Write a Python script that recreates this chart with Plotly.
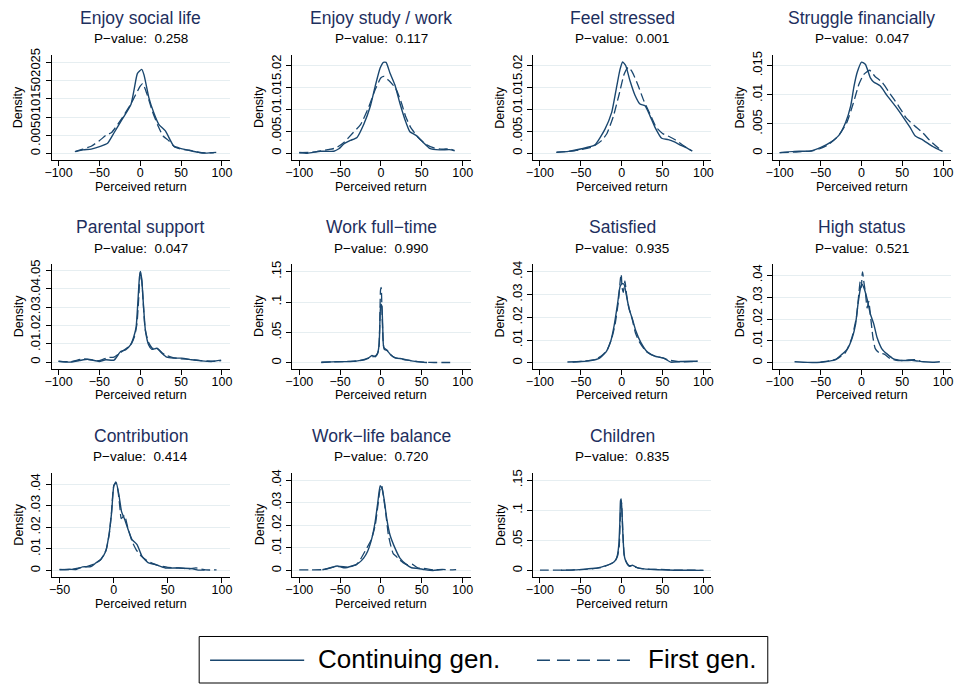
import plotly.graph_objects as go

# ---------------- data ----------------
titles = ["Enjoy social life", "Enjoy study / work", "Feel stressed", "Struggle financially",
          "Parental support", "Work full\u2212time", "Satisfied", "High status",
          "Contribution", "Work\u2212life balance", "Children"]
p_values = ["0.258", "0.117", "0.001", "0.047", "0.047", "0.990", "0.935", "0.521",
            "0.414", "0.720", "0.835"]

# 1 Enjoy social life
p1_x_cont = [-79, -70, -60, -48, -40, -32, -23.5, -11.5, -7.4, -3.4, 1.8, 4.6, 10.7, 16.7, 22.7, 30.8, 40.8, 48.9, 63, 79, 93]
p1_y_cont = [0.0005, 0.001, 0.0012, 0.002, 0.0028, 0.0057, 0.0089, 0.0134, 0.0177, 0.022, 0.0231, 0.0216, 0.0152, 0.0111, 0.008, 0.0062, 0.0021, 0.0014, 0.0007, 0.0001, 0.0003]
p1_x_first = [-80, -70, -60, -50, -42, -35, -25, -12, -6, 0, 3, 8, 15, 22, 28, 35, 42, 50, 60, 75, 90]
p1_y_first = [0.0005, 0.0012, 0.002, 0.0035, 0.005, 0.0058, 0.0088, 0.0134, 0.016, 0.0185, 0.0192, 0.0165, 0.0115, 0.0075, 0.0048, 0.0035, 0.0018, 0.0012, 0.0009, 0.0002, 0.0002]

# 2 Enjoy study / work
p2_x_cont = [-100, -90, -74, -57.6, -51.5, -45.5, -37.4, -29.3, -21, -13, -7, -1, 3, 6.3, 11, 17, 23, 29.3, 35.4, 43.4, 51.5, 59.6, 71.7, 83.8, 90]
p2_y_cont = [0.00015, 0.0, 0.00045, 0.00045, 0.001, 0.0021, 0.0029, 0.0036, 0.0066, 0.0107, 0.0153, 0.0194, 0.0207, 0.0207, 0.0183, 0.0156, 0.0115, 0.0077, 0.0049, 0.004, 0.0025, 0.0011, 0.00075, 0.0008, 0.0006]
p2_x_first = [-100, -80, -65, -55, -45, -35, -25, -15, -7, 0, 4, 10, 18, 25, 30, 36, 45, 55, 65, 75, 85, 90]
p2_y_first = [0.0001, 0.0003, 0.0008, 0.0012, 0.0025, 0.0045, 0.0065, 0.0105, 0.0145, 0.0172, 0.0175, 0.0165, 0.0148, 0.0115, 0.0085, 0.006, 0.0037, 0.002, 0.0012, 0.0009, 0.001, 0.0005]

# 3 Feel stressed
p3_x_cont = [-79.6, -65, -49, -32.7, -20.4, -12.2, -6, -2, 1.2, 4.9, 10.2, 16.3, 22.4, 28.6, 34.7, 40.8, 49, 57, 65.3, 73.5, 81.6, 86.5]
p3_y_cont = [0.0002, 0.0004, 0.001, 0.0019, 0.0055, 0.0093, 0.0153, 0.0191, 0.0208, 0.02, 0.0165, 0.0132, 0.0112, 0.0108, 0.0085, 0.0059, 0.0034, 0.0031, 0.0025, 0.0017, 0.001, 0.0005]
p3_x_first = [-80, -65, -50, -35, -25, -18, -10, -3, 3, 8, 13, 20, 27, 35, 42, 50, 58, 66, 75, 86]
p3_y_first = [0.0002, 0.0004, 0.0008, 0.0015, 0.0028, 0.0045, 0.0085, 0.0135, 0.018, 0.0196, 0.0185, 0.0155, 0.012, 0.0088, 0.006, 0.0045, 0.0038, 0.003, 0.0018, 0.0005]

# 4 Struggle financially
p4_x_cont = [-100, -82, -61.6, -49.5, -37.4, -27.3, -19.2, -13.1, -9, -5, 0.2, 5, 11, 15, 23.2, 31.3, 41.4, 51.5, 59.6, 65.7, 75.8, 87.9, 99.2]
p4_y_cont = [0.0001, 0.0003, 0.0004, 0.001, 0.0019, 0.0031, 0.0053, 0.0081, 0.0115, 0.0139, 0.0156, 0.0152, 0.0129, 0.0122, 0.0115, 0.0099, 0.0081, 0.0061, 0.0044, 0.003, 0.0022, 0.0011, 0.0003]
p4_x_first = [-100, -80, -60, -50, -40, -28, -18, -10, -3, 3, 10, 17, 25, 35, 45, 55, 65, 75, 85, 99]
p4_y_first = [0.0001, 0.0002, 0.0004, 0.0008, 0.0015, 0.003, 0.0052, 0.0085, 0.0118, 0.0135, 0.0142, 0.0131, 0.0122, 0.0102, 0.0082, 0.006, 0.0047, 0.0035, 0.002, 0.0003]

# 5 Parental support
p5_x_cont = [-100, -86.7, -74.5, -64.4, -50.3, -42.2, -32.1, -24, -18, -11.9, -7.9, -5, -3, -1, 0.2, 1.8, 3.8, 6.3, 10.3, 14.3, 20.4, 26.5, 32.5, 40.6, 50.7, 62.8, 75, 87, 99]
p5_y_cont = [0.0005, 0.0, 0.0009, 0.0016, 0.0004, 0.0013, 0.0011, 0.0058, 0.0067, 0.0094, 0.0139, 0.0193, 0.032, 0.0464, 0.0496, 0.0455, 0.032, 0.0175, 0.0094, 0.007, 0.0076, 0.0049, 0.0027, 0.0022, 0.0022, 0.0013, 0.0007, 0.0004, 0.0011]
p5_x_first = [-100, -85, -70, -60, -50, -40, -32, -25, -18, -12, -7, -4, -2, 0, 2, 4, 6, 10, 15, 20, 27, 33, 40, 50, 60, 75, 90, 99]
p5_y_first = [0.0004, 0.0003, 0.0018, 0.0012, 0.0008, 0.0025, 0.0028, 0.005, 0.0072, 0.0092, 0.014, 0.021, 0.034, 0.049, 0.044, 0.03, 0.018, 0.011, 0.0075, 0.0078, 0.005, 0.0035, 0.0025, 0.0018, 0.0015, 0.0008, 0.0005, 0.0008]

# 6 Work full-time
p6_x_cont = [-73, -53.5, -37.4, -25, -15, -11, -7, -4.2, -2.2, -1, -0.2, 1, 2.2, 3.4, 7, 11, 17.2, 23.2, 31.3, 39.4, 49.5, 56.4]
p6_y_cont = [0.001, 0.002, 0.002, 0.004, 0.008, 0.012, 0.010, 0.015, 0.031, 0.080, 0.0965, 0.094, 0.058, 0.0256, 0.021, 0.0147, 0.0082, 0.0071, 0.0049, 0.0027, 0.0011, 0.0005]
p6_x_first = [-73, -60, -45, -30, -20, -12, -6, -3, -1.5, -0.5, 0.3, 1.2, 2.5, 4, 8, 12, 18, 25, 35, 45, 55, 65, 75, 85]
p6_y_first = [0.0005, 0.0015, 0.002, 0.003, 0.005, 0.009, 0.012, 0.02, 0.06, 0.12, 0.124, 0.09, 0.04, 0.022, 0.02, 0.013, 0.008, 0.006, 0.004, 0.002, 0.0008, 0.0005, 0.0005, 0.0005]

# 7 Satisfied
p7_x_cont = [-66.4, -50.1, -37.7, -27.5, -19.3, -13.2, -9.2, -5.1, -1.8, 1, 3, 6.3, 9.2, 13.2, 17.3, 23.4, 31.6, 41.8, 52, 60, 72.3, 84.5, 92.7]
p7_y_cont = [0.0004, 0.0006, 0.001, 0.002, 0.0047, 0.0097, 0.0163, 0.0257, 0.0337, 0.0348, 0.0345, 0.0287, 0.0236, 0.0192, 0.0141, 0.009, 0.0047, 0.0028, 0.002, 0.0003, 0.0006, 0.0007, 0.0007]
p7_x_first = [-60, -45, -32, -25, -18, -12, -8, -4, -1.5, -0.5, 0.5, 2, 4, 6, 9, 13, 17, 22, 30, 40, 50, 58, 70, 85, 93]
p7_y_first = [0.0003, 0.0008, 0.0015, 0.003, 0.0055, 0.011, 0.017, 0.027, 0.037, 0.039, 0.033, 0.031, 0.036, 0.03, 0.024, 0.019, 0.013, 0.009, 0.005, 0.003, 0.0022, 0.0012, 0.0005, 0.0005, 0.0008]

# 8 High status
p8_x_cont = [-81.8, -65.7, -49.5, -39.4, -31.3, -23.2, -17.2, -11.1, -7.1, -4.2, -1, 1, 3.8, 7.1, 11.1, 15.2, 19.2, 25.3, 31.3, 39.4, 49.5, 63.6, 75.8, 87.9, 96]
p8_y_cont = [0.0005, 0.0002, 0.0003, 0.0008, 0.0015, 0.0041, 0.0063, 0.0116, 0.0177, 0.0267, 0.0343, 0.0358, 0.0335, 0.029, 0.0222, 0.0177, 0.0116, 0.0063, 0.0041, 0.0018, 0.0011, 0.0011, 0.0005, 0.0003, 0.0005]
p8_x_first = [-50, -40, -30, -20, -12, -6, -3, -1.5, 0, 0.8, 1.5, 3, 5, 7, 9, 11, 14, 17, 22, 28, 35, 45, 55, 65, 72]
p8_y_first = [0.0003, 0.0009, 0.0018, 0.0045, 0.011, 0.021, 0.032, 0.037, 0.0345, 0.04, 0.0415, 0.037, 0.032, 0.025, 0.028, 0.022, 0.012, 0.0065, 0.0045, 0.004, 0.002, 0.001, 0.0012, 0.0015, 0.0008]

# 9 Contribution
p9_x_cont = [-50, -40.9, -34.8, -28.7, -21, -16.5, -11.9, -7.3, -4.3, -1.8, 0.3, 2.4, 4.9, 7.3, 10.4, 14, 17, 21.6, 26.2, 32.3, 38.4, 47.6, 59.8, 72, 78, 84]
p9_y_cont = [0.0003, 0.0006, 0.0005, 0.0017, 0.0018, 0.0035, 0.0051, 0.0089, 0.0166, 0.0273, 0.0395, 0.0406, 0.0349, 0.0273, 0.0234, 0.0181, 0.0143, 0.012, 0.0066, 0.0035, 0.0028, 0.0012, 0.0012, 0.0009, 0.0002, 0.0002]
p9_x_first = [-50, -40, -32, -25, -18, -12, -7, -4, -2, 0, 2, 4, 6, 7, 10, 13, 17, 21, 26, 32, 40, 50, 60, 70, 76, 85, 95]
p9_y_first = [0.0005, 0.0004, 0.0012, 0.0018, 0.003, 0.005, 0.0095, 0.017, 0.027, 0.039, 0.041, 0.037, 0.028, 0.024, 0.0255, 0.02, 0.0135, 0.0095, 0.0065, 0.0042, 0.0025, 0.0015, 0.0012, 0.0008, 0.0012, 0.0003, 0.0003]

# 10 Work-life balance
p10_x_cont = [-71.7, -61.6, -53.5, -45.5, -35.4, -27.3, -21.2, -16.4, -11.1, -7.1, -3.8, -1, 1.4, 3.8, 7.1, 11.1, 17.2, 23.2, 31.3, 37.4, 45.5, 53.5, 63.6, 71.7, 75.8]
p10_y_cont = [0.0003, 0.0012, 0.002, 0.0012, 0.002, 0.0033, 0.0055, 0.0084, 0.0143, 0.0215, 0.0303, 0.0375, 0.0361, 0.0317, 0.023, 0.0157, 0.0099, 0.0055, 0.0026, 0.0012, 0.0009, 0.0004, 0.0, 0.0003, 0.0004]
p10_x_first = [-100, -85, -70, -58, -50, -40, -30, -25, -18, -12, -7, -4, -1, 1, 3, 6, 9, 12, 15, 18, 22, 27, 33, 38, 45, 55, 65, 75, 85, 92]
p10_y_first = [0.0003, 0.0003, 0.0004, 0.0015, 0.0018, 0.0015, 0.0025, 0.005, 0.0095, 0.0135, 0.02, 0.028, 0.036, 0.0375, 0.033, 0.025, 0.016, 0.011, 0.0075, 0.0065, 0.005, 0.0035, 0.0025, 0.0028, 0.0012, 0.0008, 0.0003, 0.0005, 0.0003, 0.0004]

# 11 Children
p11_x_cont = [-74.3, -58, -41.8, -29.5, -19.3, -11.1, -7.1, -5.1, -3.5, -2.2, -1.4, -0.6, 0.2, 1.4, 3, 5.1, 9.2, 13.2, 19.3, 27.4, 39.7, 49.9, 64.2, 80.4, 100]
p11_y_cont = [0.0005, 0.001, 0.0027, 0.0044, 0.0082, 0.0125, 0.018, 0.026, 0.0425, 0.0807, 0.116, 0.119, 0.1025, 0.064, 0.026, 0.0153, 0.0071, 0.0087, 0.0044, 0.0027, 0.0016, 0.0011, 0.0005, 0.0005, 0.0002]
p11_x_first = [-100, -90, -75, -60, -45, -35, -25, -15, -8, -5, -3, -2, -1, -0.3, 0.5, 1.5, 3, 5, 9, 13, 18, 25, 35, 48, 60, 80, 100]
p11_y_first = [0.0005, 0.0005, 0.0005, 0.0008, 0.002, 0.003, 0.005, 0.01, 0.016, 0.024, 0.04, 0.075, 0.11, 0.114, 0.095, 0.06, 0.028, 0.016, 0.008, 0.0075, 0.005, 0.003, 0.002, 0.0018, 0.0008, 0.0005, 0.0003]

x_cont = [p1_x_cont, p2_x_cont, p3_x_cont, p4_x_cont, p5_x_cont, p6_x_cont, p7_x_cont, p8_x_cont, p9_x_cont, p10_x_cont, p11_x_cont]
y_cont = [p1_y_cont, p2_y_cont, p3_y_cont, p4_y_cont, p5_y_cont, p6_y_cont, p7_y_cont, p8_y_cont, p9_y_cont, p10_y_cont, p11_y_cont]
x_first = [p1_x_first, p2_x_first, p3_x_first, p4_x_first, p5_x_first, p6_x_first, p7_x_first, p8_x_first, p9_x_first, p10_x_first, p11_x_first]
y_first = [p1_y_first, p2_y_first, p3_y_first, p4_y_first, p5_y_first, p6_y_first, p7_y_first, p8_y_first, p9_y_first, p10_y_first, p11_y_first]

# tick values / labels
y_tick_vals = [
    [0, 0.005, 0.01, 0.015, 0.02, 0.025],
    [0, 0.005, 0.01, 0.015, 0.02],
    [0, 0.005, 0.01, 0.015, 0.02],
    [0, 0.005, 0.01, 0.015],
    [0, 0.01, 0.02, 0.03, 0.04, 0.05],
    [0, 0.05, 0.1, 0.15],
    [0, 0.01, 0.02, 0.03, 0.04],
    [0, 0.01, 0.02, 0.03, 0.04],
    [0, 0.01, 0.02, 0.03, 0.04],
    [0, 0.01, 0.02, 0.03, 0.04],
    [0, 0.05, 0.1, 0.15],
]
x_tick_vals_full = [-100, -50, 0, 50, 100]
x_tick_vals_contrib = [-50, 0, 50, 100]
legend_labels = ["Continuing gen.", "First gen."]

# ---------------- layout geometry (pixels) ----------------
W, H = 956, 684
NAVY = "#1a476f"
TITLE_COL = "#1e2f5e"
GRID = "#e6eef1"
FONT = "Liberation Sans, Arial, Helvetica, sans-serif"

col_left = [45, 288, 531, 773]
plot_w = 180
row_top = [48, 259.5, 470.5]
row_bot = [155, 365.5, 575.7]

y_ranges = [
    [-0.0019, 0.0272], [-0.00165, 0.0225], [-0.00165, 0.0225], [-0.00124, 0.0169],
    [-0.0036, 0.0537], [-0.0098, 0.163], [-0.0026, 0.0435], [-0.0027, 0.0452],
    [-0.0029, 0.0453], [-0.0028, 0.0433], [-0.0105, 0.1625],
]


def ylab(v):
    if v == 0:
        return "0"
    s = ("%g" % v)
    return s.lstrip("0")


def px(x):
    return x / W


def py(y):
    return 1 - y / H


fig = go.Figure()
layout = dict(
    width=W, height=H, margin=dict(l=0, r=0, t=0, b=0),
    paper_bgcolor="white", plot_bgcolor="white",
    showlegend=False, font=dict(family=FONT, color="black"),
)
annotations = []
shapes = []

for i in range(11):
    r, c = divmod(i, 4)
    n = "" if i == 0 else str(i + 1)
    xa, ya = "x" + n, "y" + n
    x0 = col_left[c]
    x1 = x0 + plot_w
    t, b = row_top[r], row_bot[r]
    xrange = [-57.3, 107.3] if i == 8 else [-108.5, 109.7]
    xt = x_tick_vals_contrib if i == 8 else x_tick_vals_full

    fig.add_trace(go.Scatter(x=x_cont[i], y=y_cont[i], mode="lines", xaxis=xa, yaxis=ya,
                             line=dict(color=NAVY, width=1.4, shape="spline", smoothing=0.5),
                             name=legend_labels[0], hoverinfo="skip"))
    fig.add_trace(go.Scatter(x=x_first[i], y=y_first[i], mode="lines", xaxis=xa, yaxis=ya,
                             line=dict(color=NAVY, width=1.3, dash="9px,4px", shape="spline", smoothing=0.5),
                             name=legend_labels[1], hoverinfo="skip"))

    layout["xaxis" + n] = dict(
        domain=[px(x0), px(x1)], anchor=ya, range=xrange,
        tickvals=xt, ticks="outside", ticklen=5, tickcolor="black",
        showline=True, linecolor="black", linewidth=1, showgrid=False, zeroline=False,
        ticklabelstandoff=-4,
        tickfont=dict(size=12.5, family=FONT, color="black"),
    )
    layout["yaxis" + n] = dict(
        domain=[py(b), py(t)], anchor=xa, range=y_ranges[i],
        tickvals=y_tick_vals[i], ticktext=[ylab(v) for v in y_tick_vals[i]],
        ticks="outside", ticklen=5, tickcolor="black", tickangle=-90,
        showline=True, linecolor="black", linewidth=1,
        showgrid=True, gridcolor=GRID, gridwidth=1, zeroline=False,
        tickfont=dict(size=13, family=FONT, color="black"),
    )

    cx = (x0 + x1) / 2
    annotations.append(dict(text=titles[i], x=px(cx), y=py(t - 37), xref="paper", yref="paper",
                            xanchor="center", yanchor="middle", showarrow=False,
                            font=dict(size=17.5, color=TITLE_COL, family=FONT)))
    annotations.append(dict(text="P\u2212value:\u00a0 " + p_values[i], x=px(cx), y=py(t - 16),
                            xref="paper", yref="paper", xanchor="center", yanchor="middle",
                            showarrow=False, font=dict(size=13.5, color="black", family=FONT)))
    annotations.append(dict(text="Density", x=px(x0 - 33), y=py((t + b) / 2), xref="paper", yref="paper",
                            xanchor="center", yanchor="middle", textangle=-90, showarrow=False,
                            font=dict(size=12.5, color="black", family=FONT)))
    annotations.append(dict(text="Perceived return", x=px(cx), y=py(b + 27), xref="paper", yref="paper",
                            xanchor="center", yanchor="middle", showarrow=False,
                            font=dict(size=12.5, color="black", family=FONT)))

# ---------------- legend (drawn manually, Stata style) ----------------
shapes.append(dict(type="rect", xref="paper", yref="paper", x0=px(194), x1=px(768), y0=py(683), y1=py(636),
                   line=dict(color="black", width=1), fillcolor="white"))
shapes.append(dict(type="line", xref="paper", yref="paper", x0=px(205), x1=px(300), y0=py(660), y1=py(660),
                   line=dict(color=NAVY, width=1.6)))
shapes.append(dict(type="line", xref="paper", yref="paper", x0=px(535), x1=px(632), y0=py(660), y1=py(660),
                   line=dict(color=NAVY, width=1.6, dash="13px,7px")))
annotations.append(dict(text=legend_labels[0], x=px(312), y=py(659), xref="paper", yref="paper",
                        xanchor="left", yanchor="middle", showarrow=False,
                        font=dict(size=26, color="black", family=FONT)))
annotations.append(dict(text=legend_labels[1], x=px(645), y=py(659), xref="paper", yref="paper",
                        xanchor="left", yanchor="middle", showarrow=False,
                        font=dict(size=26, color="black", family=FONT)))

layout["annotations"] = annotations
layout["shapes"] = shapes
fig.update_layout(**layout)
fig.write_html("out.html", config={"displayModeBar": False, "staticPlot": True},
               post_script="document.body.style.margin='0px';document.body.style.overflow='hidden';")
